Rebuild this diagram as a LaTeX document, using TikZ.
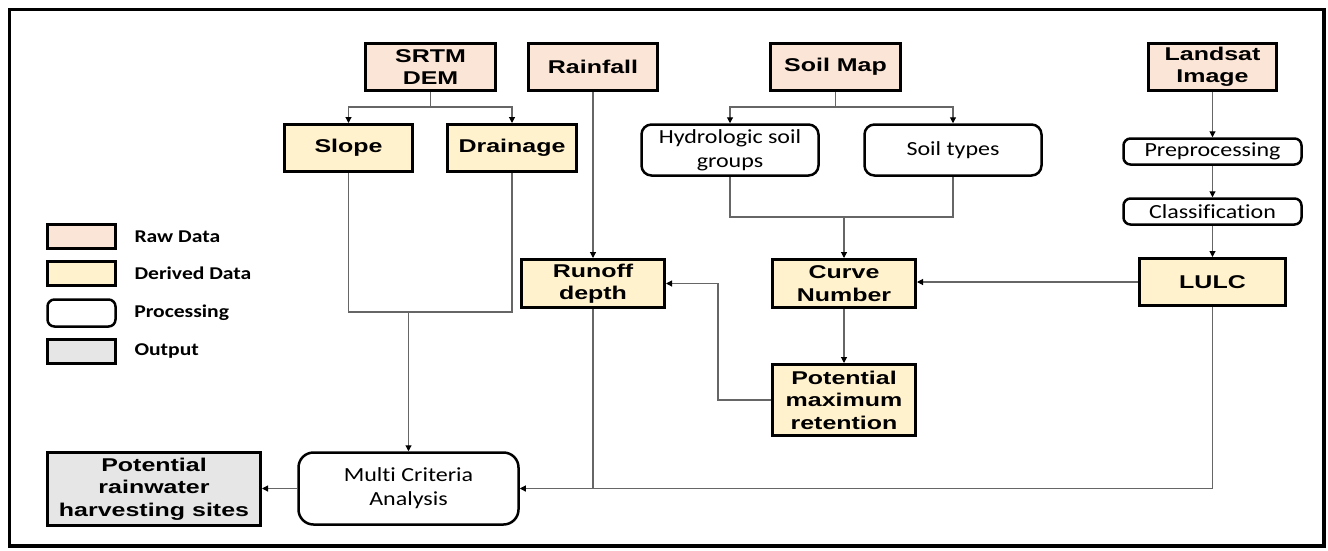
\documentclass[tikz,border=0pt]{standalone}
\usepackage{fontspec}
\usepackage{xcolor}
\usepackage{tikz}
\usetikzlibrary{arrows.meta, positioning}

\newfontfamily\arialfont[FakeStretch=1.35]{Liberation Sans}
\newfontfamily\calibrifont[FakeStretch=1.2, Ligatures=NoCommon]{Carlito}
\definecolor{rawfill}{HTML}{FBE5D6}
\definecolor{derivedfill}{HTML}{FFF2CC}
\definecolor{outputfill}{HTML}{E6E6E6}
\newcommand{\boxfont}{\arialfont\bfseries\fontsize{18.5}{22.5}\selectfont}
\newcommand{\procfont}{\calibrifont\fontsize{20}{24}\selectfont}
\newcommand{\legendfont}{\calibrifont\bfseries\fontsize{18}{21}\selectfont}

\begin{document}
\begin{tikzpicture}[
    x=1pt, y=-1pt,
    rawdata/.style={rectangle, draw=black, line width=3pt, fill=rawfill, minimum width=130pt, minimum height=47pt, inner sep=0pt, align=center, font=\boxfont},
    derived/.style={rawdata, fill=derivedfill},
    result/.style={rawdata, fill=outputfill},
    process/.style={rectangle, rounded corners=10pt, draw=black, line width=2.5pt, fill=white, inner sep=0pt, align=center, font=\procfont},
    keybox/.style={rectangle, draw=black, line width=3pt, minimum width=68pt, minimum height=24pt, inner sep=0pt},
    keytext/.style={font=\legendfont, right=14pt of #1},
    conn/.style={draw=black!60, line width=1.1pt, -{Triangle[length=6pt, width=6pt, black]}},
    wire/.style={draw=black!60, line width=1.1pt}
]
    \useasboundingbox (0,0) rectangle (1328,550);
    \draw[line width=3.5pt] (9.5,9.5) rectangle (1324,546);

    % Raw data layer
    \node[rawdata] (srtm) at (430.5,67) {SRTM\\DEM};
    \node[rawdata, minimum width=129pt] (rain) at (593,67) {Rainfall};
    \node[rawdata] (soilmap) at (835.5,67) {Soil Map};
    \node[rawdata, minimum width=128pt] (landsat) at (1212.5,67) {Landsat\\Image};

    % Derived data and processing steps
    \node[derived, minimum width=128pt] (slope) at (348.5,148) {Slope};
    \node[derived, minimum width=129pt] (drain) at (512,148) {Drainage};
    \node[process, minimum width=177pt, minimum height=51pt] (hydro) at (730,150) {Hydrologic soil\\groups};
    \node[process, minimum width=177pt, minimum height=51pt] (soiltype) at (953,150) {Soil types};
    \node[process, rounded corners=7pt, minimum width=178pt, minimum height=26pt] (prep) at (1212.5,151.5) {Preprocessing};
    \node[process, rounded corners=7pt, minimum width=178pt, minimum height=26pt] (classif) at (1212.5,211.5) {Classification};
    \node[derived, minimum width=146pt] (lulc) at (1212.5,282) {LULC};
    \node[derived, minimum width=143pt, minimum height=48pt] (runoff) at (593,283.5) {Runoff\\depth};
    \node[derived, minimum width=143pt, minimum height=48pt] (curve) at (844,283.5) {Curve\\Number};
    \node[derived, minimum width=143pt, minimum height=71pt] (pmr) at (844,400) {Potential\\maximum\\retention};

    % Analysis and output
    \node[process, rounded corners=15pt, minimum width=220pt, minimum height=72pt] (mca) at (408.5,488.5) {Multi Criteria\\Analysis};
    \node[result, minimum width=213pt, minimum height=73pt] (out) at (154,489) {Potential\\rainwater\\harvesting sites};

    % Legend
    \node[keybox, fill=rawfill] (keyraw) at (81.5,236.5) {};
    \node[keybox, fill=derivedfill] (keyder) at (81.5,273.5) {};
    \node[keybox, rounded corners=7pt, minimum height=27pt, line width=2.5pt] (keyproc) at (81.5,313) {};
    \node[keybox, fill=outputfill] (keyout) at (81.5,351) {};
    \node[keytext=keyraw] (lblraw) {Raw Data};
    \node[keytext=keyder] (lblder) {Derived Data};
    \node[keytext=keyproc] (lblproc) {Processing};
    \node[keytext=keyout] (lblout) {Output};

    % Junctions
    \coordinate (srtmfork) at (srtm.south |- 0,107);
    \coordinate (soilfork) at (soilmap.south |- 0,107);
    \coordinate (soiljoin) at (curve.north |- 0,217);
    \coordinate (sdjoin) at (mca.north |- 0,312);
    \coordinate (pmrbend) at (718,400);

    % Connections
    \draw[wire] (srtm.south) -- (srtmfork);
    \draw[conn] (srtmfork) -| (slope.north);
    \draw[conn] (srtmfork) -| (drain.north);
    \draw[wire] (soilmap.south) -- (soilfork);
    \draw[conn] (soilfork) -| (hydro.north);
    \draw[conn] (soilfork) -| (soiltype.north);
    \draw[conn] (rain.south) -- (runoff.north);
    \draw[conn] (landsat.south) -- (prep.north);
    \draw[conn] (prep.south) -- (classif.north);
    \draw[conn] (classif.south) -- (lulc.north);
    \draw[wire] (hydro.south) |- (soiljoin) -| (soiltype.south);
    \draw[conn] (soiljoin) -- (curve.north);
    \draw[conn] (lulc.west) -- (lulc.west -| curve.east);
    \draw[conn] (curve.south) -- (pmr.north);
    \draw[conn] (pmr.west) -- (pmrbend) |- (runoff.east);
    \draw[wire] (slope.south) |- (sdjoin) -| (drain.south);
    \draw[conn] (sdjoin) -- (mca.north);
    \draw[wire] (runoff.south) -- (runoff.south |- mca.east);
    \draw[conn] (lulc.south) |- (mca.east);
    \draw[conn] (mca.west) -- (mca.west -| out.east);

\end{tikzpicture}
\end{document}
